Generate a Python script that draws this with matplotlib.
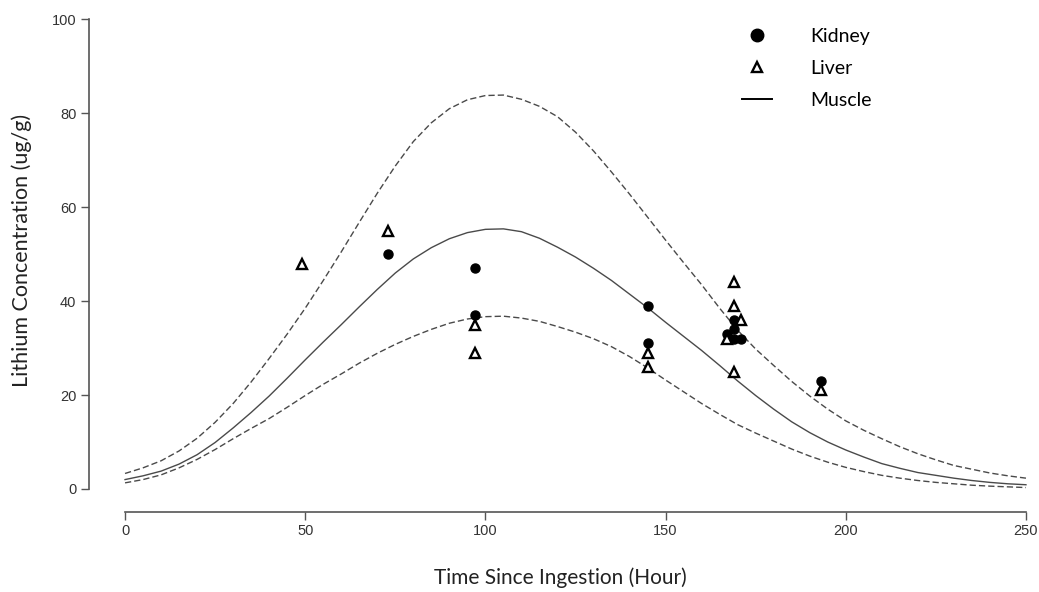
import numpy as np
import matplotlib
matplotlib.use("Agg")
from matplotlib import pyplot as plt
from matplotlib.lines import Line2D

# data
kidney_t = [73, 97, 97, 145, 145, 167, 169, 169, 169, 171, 193]
kidney_c = [50, 47, 37, 39, 31, 33, 36, 34, 32, 32, 23]
liver_t = [49, 73, 97, 97, 145, 145, 167, 169, 169, 169, 171, 193]
liver_c = [48, 55, 35, 29, 29, 26, 32, 44, 39, 25, 36, 21]

hours = list(range(0, 251, 5))
muscle = [2.0, 2.8, 3.8, 5.3, 7.3, 9.9, 13.0, 16.3, 19.8, 23.6, 27.5, 31.3, 35.0,
          38.8, 42.5, 46.0, 49.0, 51.4, 53.3, 54.6, 55.3, 55.4, 54.8, 53.4, 51.5,
          49.4, 47.0, 44.4, 41.5, 38.6, 35.5, 32.5, 29.5, 26.3, 23.0, 19.9, 17.0,
          14.3, 12.0, 10.0, 8.3, 6.8, 5.4, 4.4, 3.5, 2.9, 2.3, 1.8, 1.4, 1.1, 0.9]
muscle_hi = [3.3, 4.5, 6.0, 8.1, 10.8, 14.2, 18.2, 22.8, 27.8, 33.0, 38.5, 44.4, 50.5,
             56.8, 63.0, 68.8, 74.0, 78.0, 81.0, 82.9, 83.8, 83.9, 83.0, 81.5, 79.3,
             76.0, 72.0, 67.5, 62.8, 57.9, 53.0, 48.2, 43.5, 38.5, 33.8, 29.8, 26.3,
             22.9, 19.8, 17.0, 14.5, 12.5, 10.7, 9.0, 7.5, 6.2, 5.0, 4.2, 3.4, 2.8, 2.3]
muscle_lo = [1.3, 2.0, 3.0, 4.5, 6.3, 8.4, 10.7, 12.9, 15.0, 17.4, 19.9, 22.3, 24.5,
             26.8, 28.9, 30.8, 32.5, 34.0, 35.3, 36.2, 36.7, 36.8, 36.4, 35.7, 34.6,
             33.4, 32.0, 30.3, 28.2, 25.8, 23.2, 20.7, 18.2, 15.9, 13.7, 11.9, 10.2,
             8.5, 7.0, 5.7, 4.6, 3.7, 2.9, 2.3, 1.8, 1.4, 1.1, 0.8, 0.6, 0.45, 0.3]

W, H = 1039, 592
fig = plt.figure(figsize=(W/100, H/100), dpi=100)
# plot region in pixels (R style, axes offset from data)
left, right, top, bottom = 89, 1062, 0.7, 511.5
ax = fig.add_axes([left/W, 1 - bottom/H, (right-left)/W, (bottom-top)/H])

line_col = "#4a4a4a"
ax.plot(hours, muscle, color=line_col, lw=1.0)
ax.plot(hours, muscle_hi, color=line_col, lw=1.0, dashes=(4.5, 2.2))
ax.plot(hours, muscle_lo, color=line_col, lw=1.0, dashes=(4.5, 2.2))

ax.plot(kidney_t, kidney_c, "o", color="black", ms=6.5, ls="none")
ax.plot(liver_t, liver_c, "^", mfc="white", mec="black", mew=1.7, ms=6.5, ls="none")

ax.set_xlim(-10, 260)
ax.set_ylim(-4.8, 104)
for s in ["top", "right"]:
    ax.spines[s].set_visible(False)
ax.spines["left"].set_bounds(0, 100)
ax.spines["bottom"].set_bounds(0, 250)
for s in ["left", "bottom"]:
    ax.spines[s].set_color("#555555")
    ax.spines[s].set_linewidth(1.2)
ax.set_xticks(np.arange(0, 251, 50))
ax.set_yticks(np.arange(0, 101, 20))
ax.tick_params(length=6, width=1, color="#555555", labelcolor="#333333",
               labelsize=10.5, pad=3)
for lab in ax.get_xticklabels() + ax.get_yticklabels():
    lab.set_family("Liberation Sans")

fig.text(22/W, 1 - 250/H, "Lithium Concentration (ug/g)", rotation=90,
         ha="center", va="center", fontsize=15.5, family="Lato", color="#222222")
fig.text(560/W, 1 - 578/H, "Time Since Ingestion (Hour)",
         ha="center", va="center", fontsize=15, family="Lato", color="#222222")

handles = [
    Line2D([], [], marker="o", color="black", ls="none", ms=9),
    Line2D([], [], marker="^", mfc="white", mec="black", mew=1.7, ls="none", ms=7.5),
    Line2D([], [], color="black", lw=1.4),
]
leg = fig.legend(handles, ["Kidney", "Liver", "Muscle"], loc="upper left",
                 bbox_to_anchor=(742/W, 1 - 28/H), bbox_transform=fig.transFigure,
                 frameon=False, borderpad=0, borderaxespad=0, handlelength=1.55,
                 handletextpad=1.95, labelspacing=0.76,
                 prop={"family": "Lato", "size": 14})

fig.savefig("out.png", dpi=100)
